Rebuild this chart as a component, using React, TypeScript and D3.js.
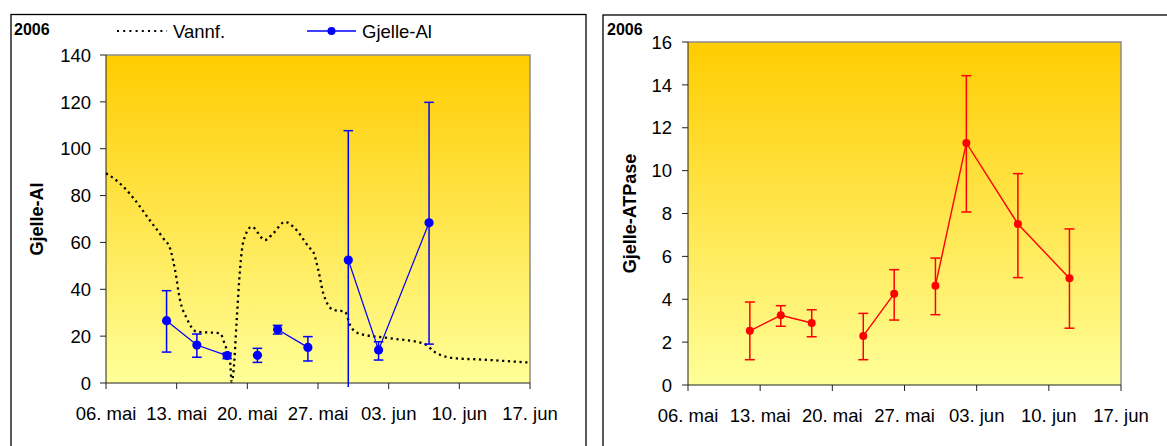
import React from 'react';
import * as d3 from 'd3';

const W = 1167;
const H = 446;
const FONT = '"Liberation Sans", Arial, sans-serif';

const parse = d3.timeParse('%Y-%m-%d');
const startDate = parse('2006-05-06') as Date;
const endDate = parse('2006-06-17') as Date;

// x ticks
const tickDates = ['2006-05-06', '2006-05-13', '2006-05-20', '2006-05-27', '2006-06-03', '2006-06-10', '2006-06-17'];
const tickLabels = ['06. mai', '13. mai', '20. mai', '27. mai', '03. jun', '10. jun', '17. jun'];

// Gjelle-Al (left)
const alDates = ['2006-05-12', '2006-05-15', '2006-05-18', '2006-05-21', '2006-05-23', '2006-05-26', '2006-05-30', '2006-06-02', '2006-06-07'];
const alValues = [26.6, 16.2, 11.7, 11.8, 22.8, 15.2, 52.5, 14.1, 68.4];
const alUpper = [39.4, 20.9, 12.7, 14.8, 24.6, 19.8, 107.7, 17.6, 119.8];
const alLower = [13.2, 11.0, 10.4, 8.8, 20.9, 9.4, -3, 9.8, 16.6];
const alGroup = [1, 1, 1, 2, 3, 3, 4, 4, 4];

// Vannf. (days after 06. mai)
const vannfDay = [0, 0.56, 1.71, 2.87, 4.19, 5.68, 6.34, 6.84, 7.33, 8.0, 8.98, 11.29, 11.79, 12.28, 12.45, 12.63, 12.95, 13.27, 13.6, 14.43, 15.75, 16.57, 17.73, 18.55, 20.21, 20.53, 21.03, 21.52, 22.52, 23.68, 24.17, 25.0, 28.13, 31.43, 32.76, 34.74, 36.72, 42.0];
const vannfValues = [89.5, 88, 83.8, 78.1, 70.3, 61.7, 57.5, 48.2, 35.4, 27.6, 21.9, 21.2, 16.2, 9.8, 0.5, 5, 26.9, 48.2, 60.3, 66.7, 61, 63.9, 68.8, 66.7, 57.5, 56, 48.2, 38.3, 31.2, 30.4, 24.8, 21.2, 19.1, 16.9, 12.7, 10.5, 10.1, 8.7];

// Gjelle-ATPase (right)
const atpDates = ['2006-05-12', '2006-05-15', '2006-05-18', '2006-05-23', '2006-05-26', '2006-05-30', '2006-06-02', '2006-06-07', '2006-06-12'];
const atpValues = [2.53, 3.25, 2.89, 2.29, 4.26, 4.63, 11.29, 7.51, 4.98];
const atpUpper = [3.87, 3.7, 3.51, 3.34, 5.38, 5.92, 14.43, 9.86, 7.28];
const atpLower = [1.18, 2.74, 2.25, 1.18, 3.03, 3.28, 8.07, 5.01, 2.65];
const atpGroup = [1, 1, 1, 2, 2, 3, 3, 3, 3];

const alTicks = [0, 20, 40, 60, 80, 100, 120, 140];
const atpTicks = [0, 2, 4, 6, 8, 10, 12, 14, 16];

type Pt = { date: Date; v: number; hi: number; lo: number; g: number };

const toPts = (dates: string[], v: number[], hi: number[], lo: number[], g: number[]): Pt[] =>
  dates.map((d, i) => ({ date: parse(d) as Date, v: v[i], hi: hi[i], lo: lo[i], g: g[i] }));

const Panel = ({ id, left, top, right, bottom, yMax, yTicks, yTitle, titleX, labelGap, children }: any) => {
  const x = d3.scaleTime().domain([startDate, endDate]).range([left, right]);
  const y = d3.scaleLinear().domain([0, yMax]).range([bottom, top]);
  return (
    <g>
      <defs>
        <linearGradient id={id + '-grad'} x1="0" y1="0" x2="0" y2="1">
          <stop offset="0%" stopColor="#FFCC00" />
          <stop offset="100%" stopColor="#FFFF99" />
        </linearGradient>
      </defs>
      <rect x={left} y={top} width={right - left} height={bottom - top} fill={`url(#${id}-grad)`} />
      <path d={`M${left},${top}H${right}V${bottom}`} fill="none" stroke="#8c8c8c" strokeWidth={1.5} />
      <line x1={left} y1={top} x2={left} y2={bottom} stroke="#222" strokeWidth={1} />
      <line x1={left} y1={bottom} x2={right} y2={bottom} stroke="#222" strokeWidth={1} />
      {yTicks.map((t: number) => (
        <g key={'y' + t}>
          <line x1={left - 6} x2={left} y1={y(t)} y2={y(t)} stroke="#222" />
          <text x={left - labelGap} y={y(t)} dy="0.36em" textAnchor="end" fontSize={18.5} fontFamily={FONT} fill="#000">{t}</text>
        </g>
      ))}
      {tickDates.map((d, i) => {
        const xx = x(parse(d) as Date);
        return (
          <g key={'x' + d}>
            <line x1={xx} x2={xx} y1={bottom} y2={bottom + 6} stroke="#222" />
            <text x={xx} y={bottom + 37} textAnchor="middle" fontSize={18.5} fontFamily={FONT} fill="#000">{tickLabels[i]}</text>
          </g>
        );
      })}
      <text transform={`translate(${titleX},${(top + bottom) / 2}) rotate(-90)`} textAnchor="middle" dy="0.36em" fontSize={18} fontWeight="bold" fontFamily={FONT} fill="#000">{yTitle}</text>
      {children(x, y)}
    </g>
  );
};

const Series = ({ pts, x, y, color, r, cap, lineW, clipBottom }: any) => {
  const line = d3.line<Pt>().x(d => x(d.date)).y(d => y(d.v));
  const groups = d3.groups(pts as Pt[], d => d.g).map(g => g[1]);
  return (
    <g>
      {pts.map((p: Pt, i: number) => {
        const xx = x(p.date);
        const yLo = Math.min(y(p.lo), clipBottom);
        return (
          <g key={'e' + i} stroke={color} strokeWidth={1.5}>
            <line x1={xx} x2={xx} y1={y(p.hi)} y2={yLo} />
            <line x1={xx - cap} x2={xx + cap} y1={y(p.hi)} y2={y(p.hi)} />
            {y(p.lo) <= clipBottom && <line x1={xx - cap} x2={xx + cap} y1={y(p.lo)} y2={y(p.lo)} />}
          </g>
        );
      })}
      {groups.map((g, i) => g.length > 1 && (
        <path key={'l' + i} d={line(g) || ''} fill="none" stroke={color} strokeWidth={lineW} />
      ))}
      {pts.map((p: Pt, i: number) => (
        <circle key={'c' + i} cx={x(p.date)} cy={y(p.v)} r={r} fill={color} />
      ))}
    </g>
  );
};

const App = () => {
  const alPts = toPts(alDates, alValues, alUpper, alLower, alGroup);
  const atpPts = toPts(atpDates, atpValues, atpUpper, atpLower, atpGroup);
  const vannf = vannfDay.map((d, i) => ({ date: d3.timeMinute.offset(startDate, Math.round(d * 1440)), v: vannfValues[i] }));

  return (
    <svg width={W} height={H} style={{ position: 'absolute', left: 0, top: 0, background: '#fff' }}>
      {/* left panel frame */}
      <rect x={11} y={14.5} width={575} height={H} fill="#fff" stroke="#000" strokeWidth={1.3} />
      <text x={14} y={35} fontSize={16} fontWeight="bold" fontFamily={FONT}>2006</text>
      {/* legend */}
      <line x1={117} x2={167} y1={31} y2={31} stroke="#000" strokeWidth={2} strokeDasharray="2 4.2" />
      <text x={173} y={37.5} fontSize={18.5} fontFamily={FONT}>Vannf.</text>
      <line x1={307} x2={356} y1={31} y2={31} stroke="#0000FF" strokeWidth={1.3} />
      <circle cx={331.5} cy={31} r={4} fill="#0000FF" />
      <text x={362} y={37.5} fontSize={18.5} fontFamily={FONT}>Gjelle-Al</text>
      <Panel id="al" left={106} top={55} right={530} bottom={383} yMax={140} yTicks={alTicks} yTitle="Gjelle-Al" titleX={37} labelGap={15}>
        {(x: any, y: any) => {
          const vl = d3.line<any>().x(d => x(d.date)).y(d => y(d.v)).curve(d3.curveMonotoneX);
          return (
            <g>
              <path d={vl(vannf) || ''} fill="none" stroke="#000" strokeWidth={2.3} strokeDasharray="2.2 3.6" />
              <Series pts={alPts} x={x} y={y} color="#0000FF" r={4.6} cap={4.8} lineW={1.2} clipBottom={387} />
            </g>
          );
        }}
      </Panel>

      {/* right panel frame */}
      <rect x={603} y={15} width={600} height={H} fill="#fff" stroke="#000" strokeWidth={1.3} />
      <text x={607} y={35} fontSize={16} fontWeight="bold" fontFamily={FONT}>2006</text>
      <Panel id="atp" left={688} top={42} right={1121} bottom={385} yMax={16} yTicks={atpTicks} yTitle="Gjelle-ATPase" titleX={630} labelGap={16}>
        {(x: any, y: any) => (
          <Series pts={atpPts} x={x} y={y} color="#FF0000" r={4} cap={5} lineW={1.4} clipBottom={390} />
        )}
      </Panel>
    </svg>
  );
};

export default App;
